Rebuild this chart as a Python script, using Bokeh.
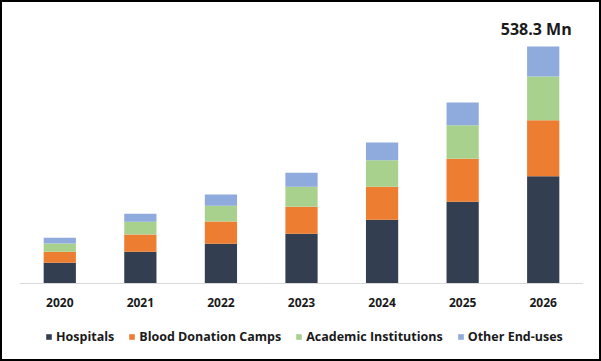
from bokeh.plotting import figure
from bokeh.models import ColumnDataSource, FactorRange, Range1d, Legend, LegendItem
from bokeh.core.properties import value
from bokeh.embed import file_html
from bokeh.resources import INLINE

years = ["2020", "2021", "2022", "2023", "2024", "2025", "2026"]
segments = ["Hospitals", "Blood Donation Camps", "Academic Institutions", "Other End-uses"]
hospitals = [47.1, 72.1, 90.3, 113.0, 144.9, 185.8, 243.3]
blood_donation_camps = [25.0, 39.3, 50.7, 61.4, 75.0, 97.8, 127.3]
academic_institutions = [18.9, 28.9, 35.7, 45.5, 59.8, 75.7, 99.4]
other_end_uses = [13.0, 18.2, 25.7, 31.8, 40.3, 51.6, 68.3]
colors = ["#333f50", "#ed7d31", "#a9d18e", "#8faadc"]
annot_year = ["2026"]
annot_text = ["538.3 Mn"]

FONT = "Open Sans"

data = dict(years=years)
for name, vals in zip(segments, [hospitals, blood_donation_camps, academic_institutions, other_end_uses]):
    data[name] = vals
src = ColumnDataSource(data)

totals = [sum(v) for v in zip(hospitals, blood_donation_camps, academic_institutions, other_end_uses)]
annot_y = [totals[years.index(y)] for y in annot_year]

p = figure(width=601, height=361, output_backend="svg", toolbar_location=None,
           x_range=FactorRange(*years, range_padding=0), y_range=Range1d(-181.7, 638.2),
           min_border_left=17, min_border_right=20, min_border_top=0, min_border_bottom=0)
p.outline_line_color = None
p.background_fill_color = "white"
p.border_fill_color = "white"
p.grid.visible = False
p.yaxis.visible = False
p.styles = {"border": "2px solid black", "box-sizing": "border-box"}

rs = p.vbar_stack(segments, x="years", width=0.4, color=colors, source=src, line_color=None)

p.text(x=annot_year, y=annot_y, text=annot_text, text_align="center", text_baseline="bottom",
       y_offset=-6, x_offset=-7, text_font=value(FONT), text_font_style="bold",
       text_font_size="16px", text_color="#1a1a1a")

ax = p.xaxis[0]
ax.fixed_location = 0
ax.axis_line_color = "#d9d9d9"
ax.axis_line_width = 1
ax.major_tick_line_color = None
ax.minor_tick_line_color = None
ax.major_label_standoff = 9
ax.major_label_text_font = FONT
ax.major_label_text_font_style = "bold"
ax.major_label_text_font_size = "12px"
ax.major_label_text_color = "#1a1a1a"

items = [LegendItem(label=s, renderers=[r]) for s, r in zip(segments, rs)]
leg = Legend(items=items, orientation="horizontal", location=(26, 18),
             glyph_width=7, glyph_height=7, label_standoff=4, spacing=14,
             padding=0, margin=0, border_line_color=None, background_fill_alpha=0,
             label_text_font=FONT, label_text_font_style="bold", label_text_font_size="12.5px",
             label_text_color="#1a1a1a", label_height=12)
p.add_layout(leg, "center")

open("out.html", "w").write(file_html(p, INLINE))
